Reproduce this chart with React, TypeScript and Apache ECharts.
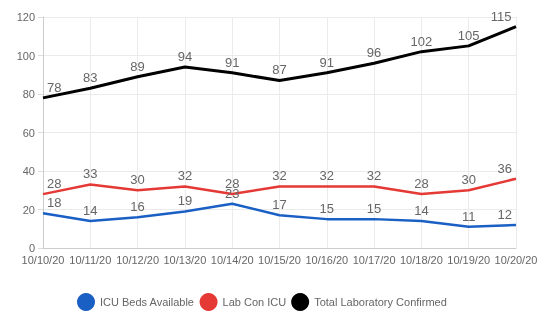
import React, { useEffect, useRef } from "react";
import * as echarts from "echarts";

const categories = ["10/10/20", "10/11/20", "10/12/20", "10/13/20", "10/14/20", "10/15/20", "10/16/20", "10/17/20", "10/18/20", "10/19/20", "10/20/20"];
const icuBeds = [18, 14, 16, 19, 23, 17, 15, 15, 14, 11, 12];
const labConIcu = [28, 33, 30, 32, 28, 32, 32, 32, 28, 30, 36];
const totalConfirmed = [78, 83, 89, 94, 91, 87, 91, 96, 102, 105, 115];

export default function App() {
  const ref = useRef<HTMLDivElement>(null);
  useEffect(() => {
    const chart = echarts.init(ref.current!, null, { renderer: "svg" });
    const mk = (name: string, data: number[], color: string, width: number) => ({
      name,
      type: "line",
      data: data.map((v, i) => {
        const w = String(v).length * 7.2;
        if (i === 0) return { value: v, label: { offset: [4 + w / 2, 0] } };
        if (i === data.length - 1) return { value: v, label: { offset: [-(4 + w / 2), 0] } };
        return v;
      }),
      showSymbol: true,
      symbol: "circle",
      symbolSize: 0.1,
      lineStyle: { color, width },
      itemStyle: { color },
      label: {
        show: true,
        position: "top",
        color: "#666",
        fontSize: 13,
        fontFamily: "Liberation Sans, Arial, sans-serif",
        distance: 4,
      },
    });
    chart.setOption({
      animation: false,
      textStyle: { fontFamily: "Liberation Sans, Arial, sans-serif" },
      grid: { left: 43, right: 37, top: 17, bottom: 63, containLabel: false },
      legend: {
        bottom: 0,
        left: 77,
        padding: [0, 0],
        icon: "circle",
        itemWidth: 18,
        itemHeight: 18,
        itemGap: 5,
        textStyle: { color: "#666", fontSize: 11 },
      },
      xAxis: {
        type: "category",
        data: categories,
        boundaryGap: false,
        axisLine: { show: true, lineStyle: { color: "#ccc" } },
        axisTick: { show: false },
        axisLabel: { color: "#666", fontSize: 11, interval: 0, margin: 6 },
        splitLine: { show: true, lineStyle: { color: "#ebebeb" } },
      },
      yAxis: {
        type: "value",
        min: 0,
        max: 120,
        interval: 20,
        axisLine: { show: true, lineStyle: { color: "#ccc" } },
        axisTick: { show: true, length: 5, lineStyle: { color: "#ddd" } },
        axisLabel: { color: "#666", fontSize: 11, margin: 8 },
        splitLine: { show: true, lineStyle: { color: "#ebebeb" } },
      },
      series: [
        mk("ICU Beds Available", icuBeds, "#1a5fc4", 2.5),
        mk("Lab Con ICU", labConIcu, "#e53935", 2.5),
        mk("Total Laboratory Confirmed", totalConfirmed, "#000000", 3),
      ],
    });
    return () => chart.dispose();
  }, []);
  return <div ref={ref} style={{ position: "fixed", left: 0, top: 0, width: 553, height: 311 }} />;
}
